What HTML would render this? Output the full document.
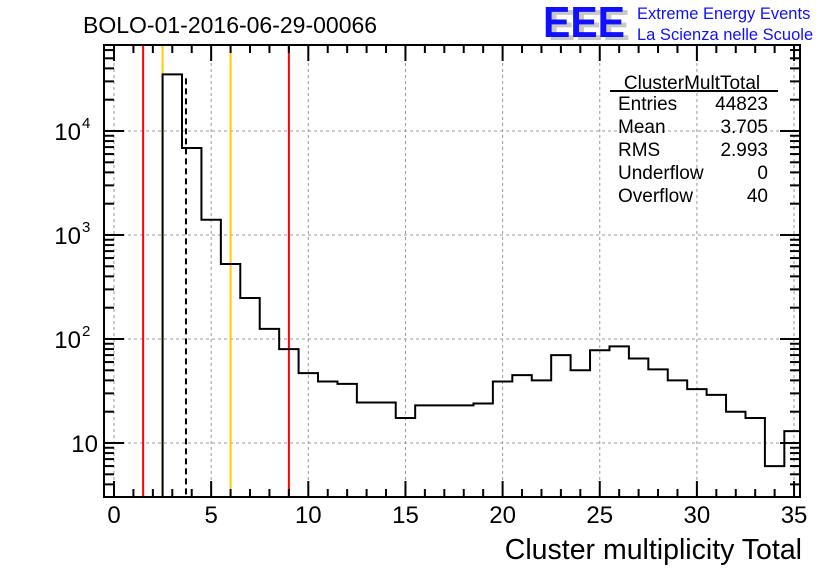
<!DOCTYPE html>
<html><head><meta charset="utf-8"><style>
html,body{margin:0;padding:0;background:#fff;}
svg{display:block;font-family:"Liberation Sans",sans-serif;}
</style></head><body>
<svg id="c" width="836" height="572">
<rect width="836" height="572" fill="#fff"/>
<text x="83" y="33" font-size="23">BOLO-01-2016-06-29-00066</text>
<g>
<text x="548" y="40" font-size="44" font-weight="bold" fill="#c8c8c8" textLength="82" lengthAdjust="spacingAndGlyphs">EEE</text>
<text x="543" y="37" font-size="44" font-weight="bold" fill="#1010ff" textLength="82" lengthAdjust="spacingAndGlyphs">EEE</text>
<text x="637" y="19" font-size="16.5" fill="#1010ff">Extreme Energy Events</text>
<text x="637" y="40" font-size="16.5" fill="#1010ff">La Scienza nelle Scuole</text>
</g>
<g id="grid"></g><g id="marks"></g><g id="hist"></g><g id="axes"></g>
<g font-size="19">
<text x="692" y="89" text-anchor="middle">ClusterMultTotal</text>
<line x1="610" y1="91" x2="778" y2="91" stroke="#000" stroke-width="2"/>
<text x="618" y="110">Entries</text><text x="768" y="110" text-anchor="end">44823</text>
<text x="618" y="133">Mean</text><text x="768" y="133" text-anchor="end">3.705</text>
<text x="618" y="156">RMS</text><text x="768" y="156" text-anchor="end">2.993</text>
<text x="618" y="179">Underflow</text><text x="768" y="179" text-anchor="end">0</text>
<text x="618" y="202">Overflow</text><text x="768" y="202" text-anchor="end">40</text>
</g>
<text x="802" y="559" font-size="28.5" text-anchor="end">Cluster multiplicity Total</text>
</svg>
<script>
const binCenters=[3,4,5,6,7,8,9,10,11,12,13,14,15,16,17,18,19,20,21,22,23,24,25,26,27,28,29,30,31,32,33,34,35];
const counts=[35000,6870,1400,526,248,125,80,47,39,37,24.5,24.5,17.4,23,23,23,24,39,45,40,70,50,78,85,65,51,40,33,29,20,17.4,6,13];
const xTicks=[0,5,10,15,20,25,30,35];
const yTicks=[10,100,1000,10000];
const yTickLabels=[["10",""],["10","2"],["10","3"],["10","4"]];
const redLines=[1.5,9];
const orangeLines=[2.5,6];
const meanLine=[3.705];
const L=104,R=800,T=45,B=497;
const xs=v=>114+v*19.43;
const ys=v=>443-(Math.log10(v)-1)*104;
const NS="http://www.w3.org/2000/svg";
function mk(p,t,a){const e=document.createElementNS(NS,t);for(const k in a)e.setAttribute(k,a[k]);p.appendChild(e);return e;}
const grid=document.getElementById('grid'),marks=document.getElementById('marks'),hist=document.getElementById('hist'),axes=document.getElementById('axes');
xTicks.forEach(t=>{const g=mk(grid,'line',{x1:xs(t),x2:xs(t),y1:T,y2:B,stroke:'#999','stroke-dasharray':'3,3'});
});
yTicks.forEach(t=>{const g=mk(grid,'line',{x1:L,x2:R,y1:ys(t),y2:ys(t),stroke:'#999','stroke-dasharray':'3,3'});
});
let d=`M${xs(binCenters[0]-0.5)},${B}`;
binCenters.forEach((c,i)=>{d+=` L${xs(c-0.5)},${ys(counts[i])} L${Math.min(xs(c+0.5),R)},${ys(counts[i])}`;});
const h=mk(hist,'path',{d:d,fill:'none',stroke:'#000','stroke-width':2});


redLines.forEach(v=>{const e=mk(marks,'line',{x1:xs(v),x2:xs(v),y1:T,y2:B,stroke:'#ff0000','stroke-width':2});
});
orangeLines.forEach(v=>{const e=mk(marks,'line',{x1:xs(v),x2:xs(v),y1:T,y2:B,stroke:'#ffcc00','stroke-width':2});
});
meanLine.forEach(v=>{const e=mk(marks,'line',{x1:xs(v),x2:xs(v),y1:ys(counts[0])+4,y2:B,stroke:'#000','stroke-width':2,'stroke-dasharray':'6,4'});
});
const f=mk(axes,'rect',{x:L,y:T,width:R-L,height:B-T,fill:'none',stroke:'#000','stroke-width':2});

for(let v=0;v<=35;v++){const len=v%5==0?16:8;
mk(axes,'line',{x1:xs(v),x2:xs(v),y1:B,y2:B-len,stroke:'#000','stroke-width':2});
mk(axes,'line',{x1:xs(v),x2:xs(v),y1:T,y2:T+len,stroke:'#000','stroke-width':2});}
xTicks.forEach(t=>{const e=mk(axes,'text',{x:xs(t),y:523,'font-size':24,'text-anchor':'middle'});e.textContent=t;
});
for(let dec=0;dec<=4;dec++){for(let m=1;m<10;m++){const v=Math.pow(10,dec)*m;const y=ys(v);if(y>B||y<T)continue;
const len=m==1?20:10;mk(axes,'line',{x1:L,x2:L+len,y1:y,y2:y,stroke:'#000','stroke-width':2});
mk(axes,'line',{x1:R,x2:R-len,y1:y,y2:y,stroke:'#000','stroke-width':2});}}
yTicks.forEach((t,i)=>{const e=mk(axes,'text',{x:98,y:ys(t)+9,'font-size':24,'text-anchor':'end'});

const lab=yTickLabels[i];if(lab[1]){e.setAttribute('x',81);e.textContent=lab[0];
const s=mk(axes,'text',{x:82,y:ys(t)-3,'font-size':15});s.textContent=lab[1];}else{e.textContent=lab[0];}});
</script>
</body></html>
